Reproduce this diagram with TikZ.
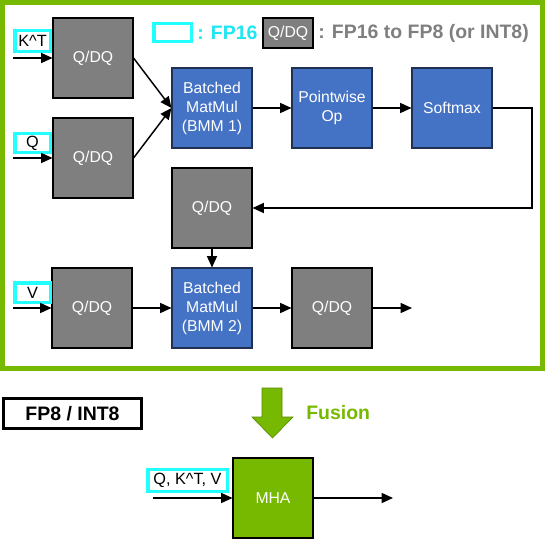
\documentclass[tikz,border=0pt]{standalone}
\usepackage{fontspec}
\setmainfont{Liberation Sans}
\usetikzlibrary{arrows.meta}
\definecolor{nvgreen}{HTML}{76B900}
\definecolor{nvgreendark}{HTML}{5A8C00}
\definecolor{bmmblue}{HTML}{4472C4}
\definecolor{bmmborder}{HTML}{1F3050}
\definecolor{qgray}{HTML}{7F7F7F}
\definecolor{fpcyan}{HTML}{22FFFF}
\definecolor{fptext}{HTML}{1EE6F2}
\definecolor{legendgray}{HTML}{7F7F7F}
\begin{document}
\begin{tikzpicture}[x=0.75pt,y=-0.75pt,
  box/.style={draw=black, line width=0.8pt, minimum width=60pt, minimum height=60pt,
    inner sep=0pt, text=white, font=\fontsize{11.8}{14.3}\selectfont, align=center},
  qdq/.style={box, fill=qgray},
  bmm/.style={box, fill=bmmblue, draw=bmmborder},
  mha/.style={box, fill=nvgreen},
  lbl/.style={draw=fpcyan, line width=2.5pt, fill=white, inner sep=0pt,
    font=\fontsize{12.2}{14.3}\selectfont, text=black},
  legendtext/.style={anchor=west, inner sep=0pt, font=\fontsize{14.6}{17}\selectfont\bfseries},
  arr/.style={draw=black, line width=1.1pt, -{Triangle[length=8.5pt,width=7.5pt]}}]
\useasboundingbox (0,0) rectangle (546,539);
% green frame
\draw[nvgreen, line width=3.75pt] (2.5,2.5) rectangle (542.5,368);

% legend
\node[lbl, minimum width=28pt, minimum height=13.5pt] (legcyan) at (172.5,32.5) {};
\node[legendtext, text=fptext] (legfp16) at (197,33) {: FP16};
\node[box, fill=qgray, minimum width=37.5pt, minimum height=22.5pt] (legqdq) at (288,33) {Q/DQ};
\node[legendtext, text=legendgray] (legconv) at (318,33) {: FP16 to FP8 (or INT8)};

% main boxes
\node[qdq] (kq) at (93,58) {Q/DQ};
\node[qdq] (qq) at (93,158) {Q/DQ};
\node[bmm] (bmm1) at (212,108) {Batched\\MatMul\\(BMM 1)};
\node[bmm] (pw) at (332,108) {Pointwise\\Op};
\node[bmm] (sm) at (452,108) {Softmax};
\node[qdq] (qm) at (212,208) {Q/DQ};
\node[qdq] (vq) at (92,308) {Q/DQ};
\node[bmm] (bmm2) at (212,308) {Batched\\MatMul\\(BMM 2)};
\node[qdq] (qo) at (332,308) {Q/DQ};

% input labels
\node[lbl, minimum width=26.5pt, minimum height=15.5pt] (klbl) at (32.5,41) {K\^{}T};
\node[lbl, minimum width=26.5pt, minimum height=14pt] (qlbl) at (32.5,143) {Q};
\node[lbl, minimum width=26.5pt, minimum height=14.5pt] (vlbl) at (32.5,292.5) {V};

\coordinate (kin) at (13,58);
\coordinate (qin) at (13,158);
\coordinate (vin) at (13,308);
\coordinate (out1) at (412,308);
\coordinate (smturn) at (532,108);

% connectors
\draw[arr] (kin) -- (kq.west);
\draw[arr] (qin) -- (qq.west);
\draw[arr] (vin) -- (vq.west);
\draw[arr] (kq.east) -- (bmm1.west);
\draw[arr] (qq.east) -- (bmm1.west);
\draw[arr] (bmm1.east) -- (pw.west);
\draw[arr] (pw.east) -- (sm.west);
\draw[arr] (sm.east) -- (smturn) |- (qm.east);
\draw[arr] (qm.south) -- (bmm2.north);
\draw[arr] (vq.east) -- (bmm2.west);
\draw[arr] (bmm2.east) -- (qo.west);
\draw[arr] (qo.east) -- (out1);

% bottom part
\node[draw=black, line width=2.4pt, fill=white, minimum width=103pt, minimum height=22.5pt,
  inner sep=0pt, font=\fontsize{14.6}{17}\selectfont\bfseries] (fp8) at (72.5,413.5) {FP8 / INT8};

\draw[fill=nvgreen, draw=nvgreendark, line width=0.5pt]
  (262,388) -- (282,388) -- (282,417) -- (293,417) -- (272.5,438) -- (252,417) -- (262,417) -- cycle;
\node[legendtext, text=nvgreen] (fusion) at (306,413) {Fusion};

\node[mha] (mhabox) at (273,498) {MHA};
\node[lbl, minimum width=59.5pt, minimum height=16.5pt] (mhalbl) at (187.5,480.5) {Q, K\^{}T, V};
\coordinate (mhain) at (153,498);
\coordinate (mhaout) at (393,498);
\draw[arr] (mhain) -- (mhabox.west);
\draw[arr] (mhabox.east) -- (mhaout);
\end{tikzpicture}
\end{document}
